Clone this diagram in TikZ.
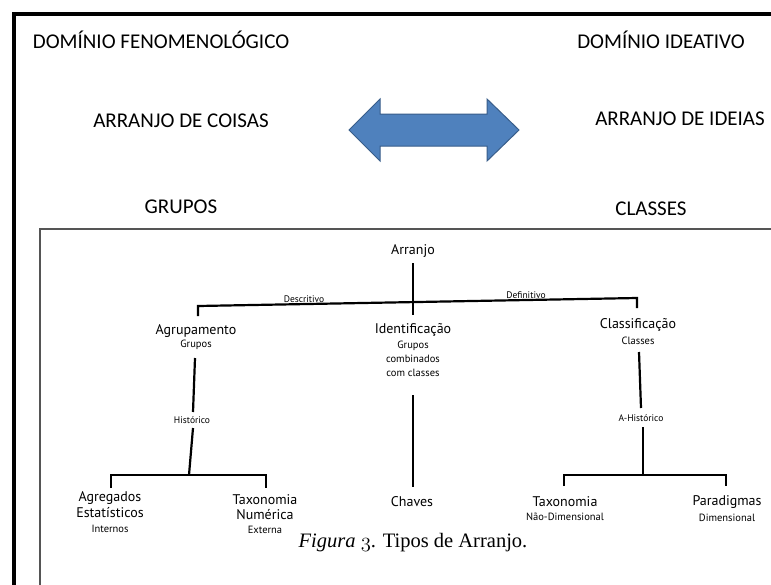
\documentclass[tikz,border=0pt]{standalone}
\usepackage{fontspec}
\newfontfamily\slidefont{Carlito}
\newfontfamily\figfont{PT Sans}
\newfontfamily\capfont{Liberation Serif}
\usetikzlibrary{calc}
\definecolor{arrowfill}{HTML}{4F81BD}
\definecolor{arrowline}{HTML}{385D8A}
\definecolor{framegray}{HTML}{555555}
\tikzset{
  slide/.style={inner sep=0pt, font=\slidefont\fontsize{21}{24}\selectfont},
  main/.style={inner sep=0pt, font=\figfont\fontsize{14}{16}\selectfont},
  sub/.style={inner sep=0pt, font=\figfont\fontsize{10.5}{14}\selectfont, align=center},
  edgelbl/.style={inner sep=0pt, font=\figfont\fontsize{9.5}{11}\selectfont},
  treeline/.style={line width=2.2pt, black},
}
\begin{document}
\begin{tikzpicture}[x=1pt, y=-1pt]
\useasboundingbox (0,0) rectangle (771,584);
\clip (0,0) rectangle (771,584);
\fill[white] (0,0) rectangle (771,584);
% frames
\draw[line width=4pt, black] (14,600) -- (14,14) -- (800,14);
\draw[line width=2pt, framegray] (40,600) -- (40,229) -- (800,229);
% slide texts
\node[slide] (dom1) at (161,40) {DOMÍNIO FENOMENOLÓGICO};
\node[slide] (dom2) at (661,40) {DOMÍNIO IDEATIVO};
\node[slide] (arr1) at (181,121) {ARRANJO DE COISAS};
\node[slide] (arr2) at (680,119) {ARRANJO DE IDEIAS};
\node[slide] (grp) at (181,207) {GRUPOS};
\node[slide] (cls) at (651,209) {CLASSES};
% double arrow
\draw[fill=arrowfill, draw=arrowline, line width=1pt, line join=miter]
  (349,130) -- (380,99) -- (380,114) -- (487,114) -- (487,99) -- (519,130)
  -- (487,161) -- (487,146) -- (380,146) -- (380,161) -- cycle;
% tree nodes
\node[main] (arr) at (413,251) {Arranjo};
\node[edgelbl] (desc) at (304,299) {Descritivo};
\node[edgelbl] (defi) at (526,295) {Definitivo};
\node[main] (agr) at (196,331) {Agrupamento};
\node[sub] (agrs) at (196,345) {Grupos};
\node[main] (idn) at (413,330) {Identificação};
\node[sub] (idns) at (413,359) {Grupos\\combinados\\com classes};
\node[main] (cla) at (638,325) {Classificação};
\node[sub] (clas) at (638,341) {Classes};
\node[edgelbl] (hist) at (192,420) {Histórico};
\node[edgelbl] (ahist) at (641,418) {A-Histórico};
\node[main] (agg1) at (110,498) {Agregados};
\node[main] (agg2) at (110,513) {Estatísticos};
\node[sub] (aggs) at (110,529) {Internos};
\node[main] (tax1a) at (265,500) {Taxonomia};
\node[main] (tax1b) at (265,515) {Numérica};
\node[sub] (tax1s) at (265,530) {Externa};
\node[main] (chv) at (412,502) {Chaves};
\node[main] (tax2) at (565,502) {Taxonomia};
\node[sub] (tax2s) at (565,517) {Não-Dimensional};
\node[main] (par) at (727,502) {Paradigmas};
\node[sub] (pars) at (727,518) {Dimensional};
\node[inner sep=0pt, font=\capfont\fontsize{20.5}{24}\selectfont] (cap) at (413,543)
  {\textit{Figura $\mathnormal{3}$}. Tipos de Arranjo.};
% connectors
\draw[treeline] ($(arr)+(0,12)$) -- ($(arr)+(0,64)$);
\draw[treeline] ($(agr)+(2,-15)$) -- ($(agr)+(2,-25)$) -- ($(cla)+(-1,-27)$) -- ($(cla)+(-1,-17)$);
\draw[treeline] ($(agrs)+(-1,13)$) -- ($(hist)+(1,-8)$);
\draw[treeline] ($(hist)+(1,8)$) -- ($(hist)+(-3,55)$);
\draw[treeline] ($(agg1)+(1,-10)$) -- ($(agg1)+(1,-23)$) -- ($(tax1a)+(1,-25)$) -- ($(tax1a)+(1,-12)$);
\draw[treeline] ($(idns)+(0,36)$) -- ($(chv)+(1,-15)$);
\draw[treeline] ($(clas)+(1,11)$) -- ($(ahist)+(0,-10)$);
\draw[treeline] ($(ahist)+(2,9)$) -- ($(ahist)+(2,57)$);
\draw[treeline] ($(tax2)+(-1,-16)$) -- ($(tax2)+(-1,-27)$) -- ($(par)+(-1,-27)$) -- ($(par)+(-1,-16)$);
\end{tikzpicture}
\end{document}
